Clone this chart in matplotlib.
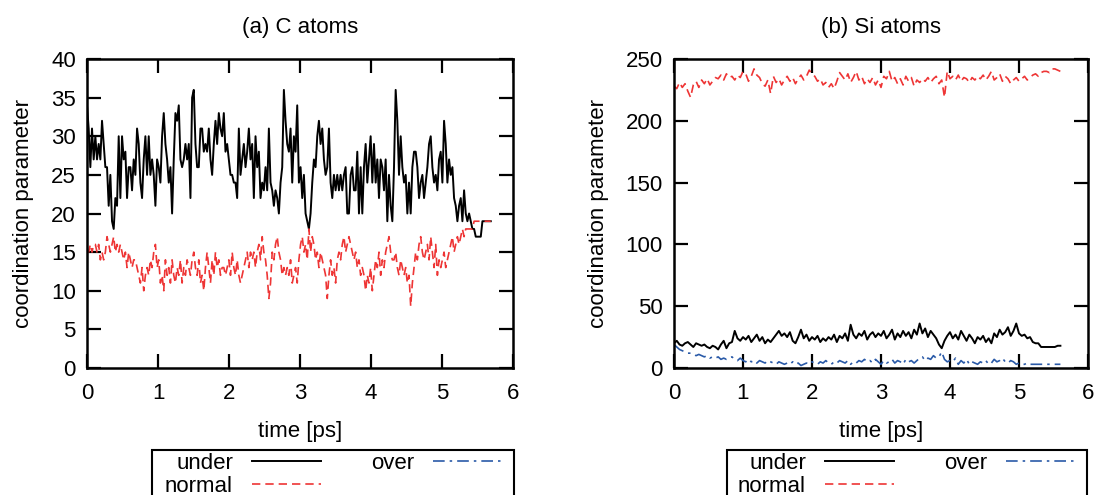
import numpy as np
import matplotlib
matplotlib.use("Agg")
import matplotlib.pyplot as plt
from matplotlib.lines import Line2D
from matplotlib.patches import Rectangle

plt.rcParams['font.family'] = ['Liberation Sans', 'DejaVu Sans']

# (a) C atoms, one sample every ~0.0235 ps
c_dt = 0.0235
c_under = [34, 31, 26, 31, 27, 30, 27, 29, 27, 32, 29, 26, 26, 21, 25, 19, 18, 22, 21, 30,
           22, 30, 27, 28, 22, 26, 26, 23, 27, 25, 31, 29, 24, 22, 27, 30, 25, 30, 25, 27,
           25, 21, 27, 26, 24, 30, 33, 29, 27, 24, 26, 20, 27, 33, 32, 34, 27, 26, 27, 29,
           27, 29, 22, 35, 36, 29, 26, 26, 31, 31, 28, 29, 28, 31, 27, 25, 29, 32, 29, 33,
           31, 30,
           33, 28, 29, 27, 25, 25, 24, 24, 22, 31, 25, 27, 29, 26, 28, 31, 27, 29, 22, 30,
           26, 28, 22, 24, 23, 26, 23, 31, 24, 23, 21, 23, 22, 20, 24, 26, 36, 32, 29, 28,
           31, 24, 30, 28, 34, 24, 26, 22, 25, 20, 19, 18, 20, 24, 27, 26, 30, 32, 29, 31,
           27, 25, 26, 31, 24, 22, 25, 23, 25, 23, 25, 23, 25, 26, 20, 20, 25, 26, 23, 23,
           28, 20, 26,
           20, 26, 29, 24, 27, 30, 24, 29, 24, 27, 22, 27, 26, 23, 27, 19, 25, 21, 19, 26,
           36, 32, 25, 30, 26, 24, 25, 20, 24, 20, 26, 28, 28, 26, 22, 24, 25, 22, 24, 26,
           29, 30, 26, 24, 25, 23, 27, 28, 24, 32, 29, 24, 27, 25, 26, 22, 21, 19, 21, 22,
           19, 23, 20, 19, 20, 19, 18, 18, 17, 17, 17, 17, 19, 19, 19, 19, 19, 19]
c_normal = [15, 15, 16, 15, 16, 16, 15, 16, 14, 15, 14, 15, 17, 16, 15, 16, 17, 15, 16, 15,
            16, 15, 14, 15, 13, 15, 14, 13, 14, 14, 13, 12, 11, 13, 10, 12, 13, 12, 14, 13,
            15, 16, 13, 14, 11, 12, 10, 14, 12, 13, 11, 14, 12, 11, 13, 12, 14, 11, 13, 12,
            14, 13, 12, 14, 15, 13, 12, 14, 11, 12, 10, 13, 15, 13, 11, 14, 12, 15, 13, 14,
            12, 13,
            13, 12, 13, 14, 12, 15, 13, 12, 14, 12, 11, 12, 13, 14, 15, 13, 15, 14, 15, 13,
            15, 16, 14, 17, 15, 14, 12, 9, 11, 15, 14, 16, 17, 15, 14, 12, 13, 12, 13, 12,
            14, 11, 12, 13, 11, 14, 16, 17, 15, 16, 14, 18, 15, 17, 16, 14, 15, 13, 15, 14,
            13, 12, 9, 12, 14, 12, 13, 11, 14, 15, 14, 16, 17, 15, 16, 17, 16, 15, 14, 15,
            13, 14, 12,
            13, 12, 10, 12, 11, 13, 10, 12, 14, 13, 15, 12, 14, 13, 15, 16, 17, 15, 14, 14,
            15, 13, 12, 14, 13, 12, 13, 11, 12, 8, 11, 13, 15, 14, 16, 17, 15, 14, 15, 16,
            14, 17, 15, 13, 16, 12, 14, 13, 14, 15, 13, 14, 15, 16, 17, 15, 16, 17, 16, 17,
            18, 17, 18, 18, 18, 18, 18, 19, 19, 19, 19, 19, 19, 19, 19, 19, 19, 19]

# (b) Si atoms, one sample every 0.04 ps
si_dt = 0.04
si_under = [20, 22, 19, 18, 20, 21, 19, 17, 20, 19, 18,
            19, 17, 16, 18, 17, 15, 19, 22, 16, 20,
            21, 30, 24, 22, 25,
            23, 26, 21, 24, 27, 22, 25, 20, 23, 21,
            24, 27, 30, 26, 28, 25, 29, 22, 20, 25,
            31, 24, 27, 22, 25, 23, 26, 21, 24, 22,
            25, 23, 27, 21, 26, 24, 28, 22, 35, 27,
            24, 28, 26, 30, 23, 27, 29, 25, 28, 26,
            30, 24, 27, 31, 23, 28, 25, 30, 26, 29,
            24, 31, 27, 36, 28, 32, 25, 30, 27, 24,
            19, 16, 22, 26, 29, 24, 27, 23, 30, 26,
            22, 27, 24, 20, 25, 23, 26, 21, 24, 20,
            28, 25, 31, 27, 29, 33, 26, 30, 36, 28,
            26, 27, 24, 25, 21, 20, 20, 17, 17, 17,
            17, 17, 17, 18, 18]
si_normal = [228, 226, 231, 227, 230, 224, 219,
             229, 232, 227, 233, 230, 234, 229, 232, 235,
             234, 237, 233, 238, 235, 236, 233, 237, 235, 240,
             238, 232, 236, 242, 237,
             235, 230, 228, 233, 222, 236, 231, 234, 229, 233,
             236, 232, 235, 230, 234, 237, 233, 236, 241, 238,
             236, 232, 234, 229, 231, 227, 230, 226, 232, 239,
             236, 233, 238, 231, 235, 240, 233, 236, 230, 234,
             231, 235, 229, 233, 227, 236, 234, 240, 232, 235,
             230, 234, 229, 236, 232, 235, 228, 233, 231, 234,
             232, 235, 231, 234, 236, 230, 233, 219, 240, 234,
             236, 233, 237, 232, 235, 234, 231, 235, 233, 236,
             234, 237, 233, 236, 240, 233, 235, 238, 232, 236,
             234, 230, 233, 235, 232, 234, 236, 233, 235, 237,
             238, 236, 239, 240, 240, 239, 242, 242, 241, 240]
si_over = [19, 17, 15, 14, 13, 12, 12, 11, 10, 11, 10,
           9, 10, 8, 9, 8, 9, 7, 8, 7, 8,
           9, 7, 6, 8, 6, 5, 7, 5, 6, 4,
           6, 5, 4, 6, 5, 4, 3, 5, 4, 3,
           4, 3, 5, 3, 4, 2, 3, 4, 3, 5,
           4, 3, 5, 4, 6, 4, 3, 5, 4, 6,
           5, 4, 6, 3, 5, 4, 6, 5, 7, 5,
           6, 4, 7, 5, 3, 6, 4, 5, 7, 4,
           6, 5, 3, 7, 5, 6, 4, 6, 8, 9,
           6, 8, 7, 10, 8, 9, 13, 7, 5, 6,
           5, 8, 3, 6, 4, 7, 3, 5, 4, 3,
           5, 4, 6, 3, 4, 7, 5, 6, 8, 5,
           4, 6, 5, 3, 4, 3, 3, 4, 3, 3,
           3, 3, 3, 3, 3, 3, 3, 3, 3, 3]

BLACK = '#000000'
RED = '#ee3535'
BLUE = '#2a5aa8'
FS = 16
W, H = 1095, 495

st_under = dict(color=BLACK, lw=1.4, ls='-')
st_normal = dict(color=RED, lw=1.2, ls=(0, (5, 3)))
st_over = dict(color=BLUE, lw=1.2, ls=(0, (7, 3, 1.5, 3)))

fig = plt.figure(figsize=(W / 100, H / 100), dpi=100)
ax1 = fig.add_axes([87 / W, 127 / H, 426 / W, 309 / H])
ax2 = fig.add_axes([674 / W, 127 / H, 414 / W, 309 / H])


def times(vals, dt):
    return np.arange(len(vals)) * dt


ax1.plot(times(c_under, c_dt), c_under, **st_under)
ax1.plot(times(c_normal, c_dt), c_normal, **st_normal)

ax2.plot(times(si_under, si_dt), si_under, **st_under)
ax2.plot(times(si_normal, si_dt), si_normal, **st_normal)
ax2.plot(times(si_over, si_dt), si_over, **st_over)


def style(ax, ymax, ystep, title):
    ax.set_xlim(0, 6)
    ax.set_ylim(0, ymax)
    ax.set_xticks(range(7))
    ax.set_yticks(np.arange(0, ymax + 1, ystep))
    ax.tick_params(direction='in', length=10, width=1.6, top=True, right=True,
                   labelsize=FS)
    ax.tick_params(axis='x', pad=11)
    ax.tick_params(axis='y', pad=8)
    for s in ax.spines.values():
        s.set_linewidth(1.8)
    ax.set_title(title, fontsize=FS, pad=19)
    ax.set_xlabel('time [ps]', fontsize=FS, labelpad=12)
    ax.set_ylabel('coordination parameter', fontsize=FS, labelpad=12)


style(ax1, 40, 5, '(a) C atoms')
style(ax2, 250, 50, '(b) Si atoms')

# gnuplot-style key under each panel (box runs off the bottom edge)
handles = [Line2D([], [], **st_under), Line2D([], [], **st_normal), Line2D([], [], **st_over)]
labels = ['under', 'normal', 'over']
for ax, text_x, box_x0, box_x1 in [(ax1, 165, 152, 514), (ax2, 738, 727, 1087)]:
    ax.legend(handles, labels, ncol=2, loc='upper left',
              bbox_to_anchor=(text_x / W, 1 - 453 / H), bbox_transform=fig.transFigure,
              frameon=False, borderpad=0, borderaxespad=0, markerfirst=False,
              handlelength=3.1, handletextpad=0.85, columnspacing=2.25,
              labelspacing=0.08, fontsize=FS)
    fig.add_artist(Rectangle((box_x0 / W, -0.2), (box_x1 - box_x0) / W, 0.2 + 1 - 450 / H,
                             transform=fig.transFigure, fill=False, lw=1.5,
                             ec='black', clip_on=False))

fig.savefig('out.png', dpi=100)
